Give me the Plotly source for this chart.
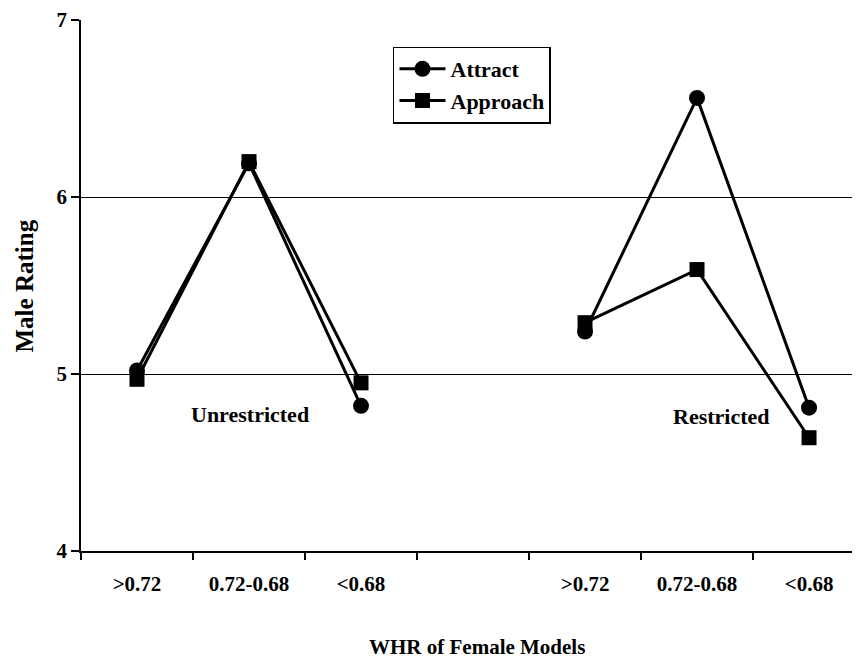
import plotly.graph_objects as go

categories = [">0.72", "0.72-0.68", "<0.68", "", ">0.72", "0.72-0.68", "<0.68"]
unres_x = [0, 1, 2]
res_x = [4, 5, 6]
attract_unres = [5.02, 6.19, 4.82]
approach_unres = [4.97, 6.20, 4.95]
attract_res = [5.24, 6.56, 4.81]
approach_res = [5.29, 5.59, 4.64]
group_labels = ["Unrestricted", "Restricted"]
group_label_x = [1.01, 5.22]
group_label_y = [4.77, 4.76]

FONT = "Liberation Serif"

fig = go.Figure()
line = dict(color="black", width=3)
circ = dict(symbol="circle", size=16, color="black")
sq = dict(symbol="square", size=15, color="black")
fig.add_trace(go.Scatter(x=unres_x, y=attract_unres, mode="lines+markers", name="<b>Attract</b>",
                         line=line, marker=circ, legendgroup="a"))
fig.add_trace(go.Scatter(x=unres_x, y=approach_unres, mode="lines+markers", name="<b>Approach</b>",
                         line=line, marker=sq, legendgroup="b"))
fig.add_trace(go.Scatter(x=res_x, y=attract_res, mode="lines+markers", name="<b>Attract</b>",
                         line=line, marker=circ, legendgroup="a", showlegend=False))
fig.add_trace(go.Scatter(x=res_x, y=approach_res, mode="lines+markers", name="<b>Approach</b>",
                         line=line, marker=sq, legendgroup="b", showlegend=False))

for t, xv, yv in zip(group_labels, group_label_x, group_label_y):
    fig.add_annotation(x=xv, y=yv, text="<b>" + t + "</b>", showarrow=False,
                       font=dict(family=FONT, size=22, color="black"))

fig.add_annotation(x=0.508, y=-0.180, xref="paper", yref="paper", xanchor="center", yanchor="middle",
                   text="<b>WHR of Female Models</b>", showarrow=False,
                   font=dict(family=FONT, size=21, color="black"))
fig.add_annotation(x=-0.0719, y=0.50, xref="paper", yref="paper", xanchor="center", yanchor="middle",
                   text="<b>Male Rating</b>", textangle=-90, showarrow=False,
                   font=dict(family=FONT, size=25, color="black"))

fig.update_layout(
    width=852, height=652,
    margin=dict(l=73, r=0, t=12, b=109),
    paper_bgcolor="white", plot_bgcolor="white",
    font=dict(family=FONT, color="black"),
    showlegend=True,
    legend=dict(x=0.4005, y=0.95, xanchor="left", yanchor="top",
                bordercolor="black", borderwidth=1.5, bgcolor="white",
                font=dict(family=FONT, size=22, color="black"),
                tracegroupgap=0, itemwidth=46),
    xaxis=dict(
        range=[-0.5, 6.455], tickmode="array", automargin=False,
        tickvals=list(range(len(categories))),
        ticktext=["<b>" + c + "</b>" if c else "" for c in categories],
        ticks="", showgrid=False, zeroline=False,
        showline=True, linecolor="black", linewidth=1.5,
        tickfont=dict(family=FONT, size=21, color="black"),
        ticklabelstandoff=13,
        minor=dict(tickvals=[i - 0.5 for i in range(len(categories) + 1)],
                   ticks="outside", ticklen=7, tickcolor="black", tickwidth=1.5,
                   showgrid=False),
    ),
    yaxis=dict(
        range=[4, 7], tickvals=[4, 5, 6, 7], ticktext=["<b>4</b>", "<b>5</b>", "<b>6</b>", "<b>7</b>"],
        ticks="outside", ticklen=8, tickcolor="black", tickwidth=1.5, automargin=False,
        showgrid=True, gridcolor="black", gridwidth=1.2, zeroline=False,
        showline=True, linecolor="black", linewidth=1.5,
        tickfont=dict(family=FONT, size=21, color="black"),
    ),
)

fig.write_html("out.html")
